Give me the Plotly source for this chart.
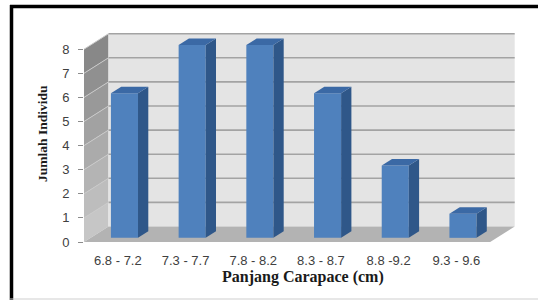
import plotly.graph_objects as go

# ---- data ----
categories = ["6.8 - 7.2", "7.3 - 7.7", "7.8 - 8.2", "8.3 - 8.7", "8.8 -9.2", "9.3 - 9.6"]
counts = [6, 8, 8, 6, 3, 1]
y_ticks = [0, 1, 2, 3, 4, 5, 6, 7, 8]
x_title = "Panjang Carapace (cm)"
y_title = "Jumlah Individu"

# ---- 3D projection constants (in axis units) ----
DEPTH_X = 0.362      # wall depth along x (category units)
DEPTH_Y = 0.643      # wall depth along y (value units)
BAR_FRONT = 0.27     # fraction of depth where bar front plane sits
BAR_DEPTH = 0.42     # fraction of depth occupied by bar
BAR_WIDTH = 0.40
YMAX = max(y_ticks)
n = len(categories)
x0, x1 = -0.5, n - 0.5

FRONT_C = "#4f81bd"
SIDE_C = "#2f5789"
TOP_C = "#3b69a5"

fig = go.Figure()
shapes = []

def poly(pts):
    return "M " + " L ".join(f"{x},{y}" for x, y in pts) + " Z"

# side wall in strips (gradient: darker at top)
for k in range(YMAX):
    t = k / (YMAX - 1)
    g = int(198 - (198 - 136) * t)
    col = f"rgb({g},{g},{g})"
    shapes.append(dict(type="path", xref="x", yref="y", layer="below",
                       path=poly([(x0, k), (x0, k + 1), (x0 + DEPTH_X, k + 1 + DEPTH_Y), (x0 + DEPTH_X, k + DEPTH_Y)]),
                       fillcolor=col, line=dict(width=0)))
# back wall
shapes.append(dict(type="path", xref="x", yref="y", layer="below",
                   path=poly([(x0 + DEPTH_X, DEPTH_Y), (x1 + DEPTH_X, DEPTH_Y),
                              (x1 + DEPTH_X, YMAX + DEPTH_Y), (x0 + DEPTH_X, YMAX + DEPTH_Y)]),
                   fillcolor="#e4e4e4", line=dict(width=0)))
# gridlines on back wall and side wall
for k in y_ticks[1:]:
    shapes.append(dict(type="line", xref="x", yref="y", layer="below",
                       x0=x0 + DEPTH_X, x1=x1 + DEPTH_X, y0=k + DEPTH_Y, y1=k + DEPTH_Y,
                       line=dict(color="#a3a3a3", width=1.6)))
    shapes.append(dict(type="line", xref="x", yref="y", layer="below",
                       x0=x0, x1=x0 + DEPTH_X, y0=k, y1=k + DEPTH_Y,
                       line=dict(color="#c9c9c9", width=1)))
# floor
shapes.append(dict(type="path", xref="x", yref="y", layer="below",
                   path=poly([(x0, 0), (x1, 0), (x1 + DEPTH_X, DEPTH_Y), (x0 + DEPTH_X, DEPTH_Y)]),
                   fillcolor="#b3b3b3", line=dict(width=0)))

# bars: front faces
bx = BAR_FRONT * DEPTH_X
by = BAR_FRONT * DEPTH_Y
dx = BAR_DEPTH * DEPTH_X
dy = BAR_DEPTH * DEPTH_Y
xs = [i + bx for i in range(n)]
fig.add_trace(go.Bar(x=xs, y=counts, base=by, width=BAR_WIDTH,
                     marker=dict(color=FRONT_C, line=dict(width=0)),
                     showlegend=False, hoverinfo="skip"))
# side and top faces
for i, v in enumerate(counts):
    xl = xs[i] - BAR_WIDTH / 2
    xr = xs[i] + BAR_WIDTH / 2
    top = v + by
    sx = [xr, xr, xr + dx, xr + dx, xr]
    sy = [by, top, top + dy, by + dy, by]
    fig.add_trace(go.Scatter(x=sx, y=sy, fill="toself", fillcolor=SIDE_C, mode="lines",
                             line=dict(width=0, color=SIDE_C), showlegend=False, hoverinfo="skip"))
    tx = [xl, xr, xr + dx, xl + dx, xl]
    ty = [top, top, top + dy, top + dy, top]
    fig.add_trace(go.Scatter(x=tx, y=ty, fill="toself", fillcolor=TOP_C, mode="lines",
                             line=dict(width=0, color=TOP_C), showlegend=False, hoverinfo="skip"))

# frame around the picture
L, R, T, B = 84, 520, 30, 245
W, H = 538, 300
def px(x): return (x - L) / (R - L)
def py(y): return (B - y) / (B - T)
shapes.append(dict(type="line", xref="paper", yref="paper", x0=px(10), x1=px(538), y0=py(6.5), y1=py(6.5),
                   line=dict(color="black", width=3.5)))
shapes.append(dict(type="line", xref="paper", yref="paper", x0=px(11.5), x1=px(11.5), y0=py(5), y1=py(300),
                   line=dict(color="black", width=3.5)))
shapes.append(dict(type="line", xref="paper", yref="paper", x0=px(10), x1=px(538), y0=py(299), y1=py(299),
                   line=dict(color="#cfcfcf", width=1)))

annotations = [
    dict(text=f"<b>{x_title}</b>", xref="paper", yref="paper", x=px(303), y=py(277),
         xanchor="center", yanchor="middle", showarrow=False,
         font=dict(family="Liberation Serif", size=16, color="#1a1a1a")),
    dict(text=f"<b>{y_title}</b>", xref="paper", yref="paper", x=px(42), y=py(134),
         xanchor="center", yanchor="middle", showarrow=False, textangle=-90,
         font=dict(family="Liberation Serif", size=13.5, color="#1a1a1a")),
]

fig.update_layout(
    width=W, height=H,
    margin=dict(l=L, r=W - R, t=T, b=H - B),
    paper_bgcolor="white", plot_bgcolor="white",
    shapes=shapes, annotations=annotations,
    showlegend=False,
    xaxis=dict(range=[x0, x0 + (R - L) / 67.7], tickvals=list(range(n)), ticktext=categories,
               showgrid=False, zeroline=False, showline=False, ticks="",
               ticklabelstandoff=6,
               tickfont=dict(family="Liberation Sans", size=13, color="#404040")),
    yaxis=dict(range=[-(245 - 242) / 24.1, (242 - T) / 24.1], tickvals=y_ticks,
               showgrid=False, zeroline=False, showline=False,
               ticks="outside", ticklen=5, tickcolor="#8c8c8c", tickwidth=1,
               ticklabelstandoff=6,
               tickfont=dict(family="Liberation Sans", size=13, color="#404040")),
)

fig.write_html("out.html", config={"displayModeBar": False},
               post_script="document.body.style.margin='0';document.body.style.padding='0';")
